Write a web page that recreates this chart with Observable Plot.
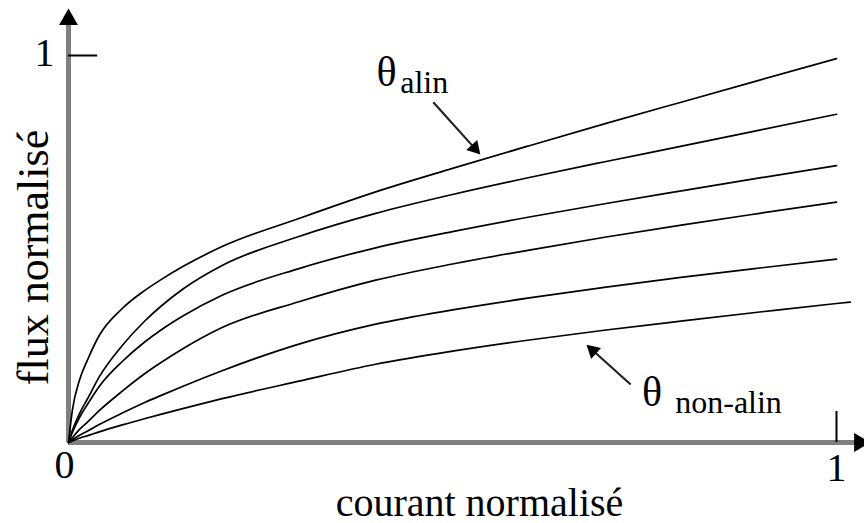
<!DOCTYPE html>
<html>
<head>
<meta charset="utf-8">
<script src="https://cdn.jsdelivr.net/npm/d3@7"></script>
<script src="https://cdn.jsdelivr.net/npm/@observablehq/plot@0.6"></script>
<style>
  body { margin: 0; background: #fff; }
  #chart svg { display: block; }
</style>
</head>
<body>
<div id="chart"></div>
<script>
// Normalised current (x) sampled for every magnetisation curve
const current = [0, 0.005, 0.015, 0.025, 0.04, 0.07, 0.1, 0.12, 0.15, 0.2, 0.3, 0.4, 0.5, 0.6, 0.7, 0.8, 0.9, 1.0];
// The non-aligned curve runs a little past x = 1
const currentNonAlin = [...current, 1.018];

// Normalised flux, from the aligned position (top) to the non-aligned one (bottom)
const fluxAlin    = [0, 0.0827, 0.1654, 0.2145, 0.2765, 0.3463, 0.3938, 0.4202, 0.4558, 0.5062, 0.5788, 0.6476, 0.7083, 0.7669, 0.8245, 0.8806, 0.9364, 0.9920];
const flux2       = [0, 0.0310, 0.0775, 0.1137, 0.1695, 0.2506, 0.3152, 0.3514, 0.3979, 0.4574, 0.5323, 0.5920, 0.6408, 0.6848, 0.7261, 0.7664, 0.8072, 0.8481];
const flux3       = [0, 0.0258, 0.0672, 0.0995, 0.1447, 0.2093, 0.2610, 0.2901, 0.3282, 0.3806, 0.4494, 0.5031, 0.5450, 0.5827, 0.6176, 0.6509, 0.6837, 0.7155];
const flux4       = [0, 0.0124, 0.0351, 0.0532, 0.0822, 0.1326, 0.1788, 0.2059, 0.2434, 0.2969, 0.3636, 0.4194, 0.4612, 0.4972, 0.5310, 0.5625, 0.5922, 0.6212];
const flux5       = [0, 0.0072, 0.0196, 0.0300, 0.0465, 0.0762, 0.1041, 0.1212, 0.1462, 0.1855, 0.2543, 0.3059, 0.3426, 0.3736, 0.4015, 0.4271, 0.4509, 0.4739];
const fluxNonAlin = [0, 0.0041, 0.0116, 0.0178, 0.0276, 0.0455, 0.0620, 0.0726, 0.0881, 0.1132, 0.1584, 0.2021, 0.2359, 0.2649, 0.2907, 0.3142, 0.3372, 0.3592, 0.3628];

const series = [
  {x: current, y: fluxAlin},
  {x: current, y: flux2},
  {x: current, y: flux3},
  {x: current, y: flux4},
  {x: current, y: flux5},
  {x: currentNonAlin, y: fluxNonAlin}
];

// Axis ticks and labels
const tickX = [1];
const tickY = [1];
const originLabel = ["0"];
const xTitle = "courant normalisé";
const yTitle = "flux normalisé";

// Axis extents (slightly past 1 for the arrow heads)
const axisXEnd = 1.03;
const axisYEnd = 1.093;

// Curve annotations: symbol, subscript and pointer arrows
const thetaLabels = [
  {x: 0.414, y: 0.922, text: "θ"},
  {x: 0.760, y: 0.0956, text: "θ"}
];
const subLabels = [
  {x: 0.432, y: 0.904, text: "alin"},
  {x: 0.790, y: 0.075, text: "non-alin"}
];
const pointers = [
  {x1: 0.475, y1: 0.879, x2: 0.534, y2: 0.749},
  {x1: 0.732, y1: 0.150, x2: 0.677, y2: 0.248}
];

const rows = series.flatMap((s, k) => s.x.map((c, i) => ({courant: c, flux: s.y[i], serie: k})));

const W = 864, H = 523;
const mL = 68, mR = 28, mT = 55, mB = 81;
const pxX = W - mL - mR, pxY = H - mT - mB;

// Arrow heads: triangle centroids set back from each pointer tip
const heads = pointers.map(p => {
  const dx = (p.x2 - p.x1) * pxX, dy = -(p.y2 - p.y1) * pxY;
  const len = Math.hypot(dx, dy);
  const back = 6;
  return {
    x: p.x2 - (dx / len) * back / pxX,
    y: p.y2 + (dy / len) * back / pxY,
    angle: Math.atan2(dx, -dy) * 180 / Math.PI
  };
});

const serif = "Liberation Serif";

const chart = Plot.plot({
  width: W,
  height: H,
  marginLeft: mL,
  marginRight: mR,
  marginTop: mT,
  marginBottom: mB,
  x: {domain: [0, 1], axis: null},
  y: {domain: [0, 1], axis: null},
  style: {background: "#fff", fontFamily: serif},
  marks: [
    // axes
    Plot.ruleY([0], {x1: 0, x2: axisXEnd, stroke: "#808080", strokeWidth: 5}),
    Plot.ruleX([0], {y1: 0, y2: axisYEnd, stroke: "#808080", strokeWidth: 5}),
    Plot.dot([{x: 0, y: axisYEnd}], {x: "x", y: "y", symbol: "triangle", r: 7, fill: "black", stroke: "none"}),
    Plot.dot([{x: axisXEnd, y: 0}], {x: "x", y: "y", symbol: "triangle", r: 7, rotate: 90, fill: "black", stroke: "none"}),
    // ticks
    Plot.ruleY(tickY, {x1: 0, x2: 0.038, stroke: "black", strokeWidth: 2}),
    Plot.ruleX(tickX, {y1: 0, y2: 0.08, stroke: "black", strokeWidth: 2}),
    // tick labels
    Plot.text(originLabel, {x: 0, y: 0, text: d => d, dx: -4, dy: 23, fontSize: 40, fontFamily: serif, fill: "black", lineAnchor: "middle"}),
    Plot.text(tickX, {x: d => d, y: 0, text: d => String(d), dx: 0, dy: 26, fontSize: 40, fontFamily: serif, fill: "black", lineAnchor: "middle"}),
    Plot.text(tickY, {x: 0, y: d => d, text: d => String(d), dx: -24, dy: -2, fontSize: 40, fontFamily: serif, fill: "black", lineAnchor: "middle"}),
    // axis titles
    Plot.text([xTitle], {x: 0.5, y: 0, text: d => d, dx: 27, dy: 73, fontSize: 40, fontFamily: serif, fill: "black", lineAnchor: "bottom"}),
    Plot.text([yTitle], {x: 0, y: 0.5, text: d => d, dx: -21, dy: 8.5, rotate: -90, fontSize: 44, fontFamily: serif, fill: "black", lineAnchor: "bottom"}),
    // curves
    Plot.line(rows, {x: "courant", y: "flux", z: "serie", curve: "monotone-x", stroke: "black", strokeWidth: 1.7}),
    // annotations
    Plot.link(pointers, {x1: "x1", y1: "y1", x2: "x2", y2: "y2", stroke: "#222", strokeWidth: 2.2}),
    Plot.dot(heads, {x: "x", y: "y", symbol: "triangle", r: 5.5, rotate: "angle", fill: "black", stroke: "none"}),
    Plot.text(thetaLabels, {x: "x", y: "y", text: "text", fontSize: 42, fontFamily: serif, fill: "black", lineAnchor: "bottom", textAnchor: "middle"}),
    Plot.text(subLabels, {x: "x", y: "y", text: "text", fontSize: 32, fontFamily: serif, fill: "black", lineAnchor: "bottom", textAnchor: "start"})
  ]
});

document.getElementById("chart").append(chart);
</script>
</body>
</html>
